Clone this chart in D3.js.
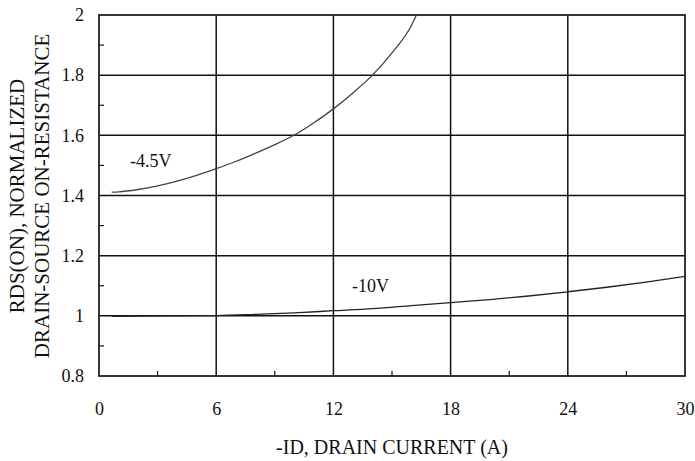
<!DOCTYPE html>
<html><head><meta charset="utf-8">
<script src="https://cdn.jsdelivr.net/npm/d3@7"></script>
<style>body{margin:0;background:#fff}svg{display:block}text{font-family:"Liberation Serif","Times New Roman",serif;fill:#111}</style>
</head><body><svg id="c" width="695" height="461"></svg>
<script>
const xTicks = [0, 6, 12, 18, 24, 30];
const yTicks = [0.8, 1, 1.2, 1.4, 1.6, 1.8, 2];
const xMinor = [3, 9, 15, 21, 27];
const yMinor = [0.9, 1.1, 1.3, 1.5, 1.7, 1.9];
const id45 = [0.65, 1, 2, 3, 4, 5, 6, 7, 8, 9, 10, 11, 12, 13, 14, 15, 16, 16.25];
const r45  = [1.411, 1.412, 1.42, 1.432, 1.448, 1.467, 1.489, 1.513, 1.54, 1.569, 1.601, 1.642, 1.688, 1.741, 1.80, 1.874, 1.966, 2.0];
const id10 = [0.65, 2, 4, 6, 8, 10, 12, 14, 16, 18, 20, 22, 24, 26, 28, 30];
const r10  = [0.998, 0.999, 1.0, 1.001, 1.005, 1.010, 1.017, 1.024, 1.034, 1.044, 1.054, 1.066, 1.080, 1.095, 1.112, 1.131];
const seriesLabels = ["-4.5V", "-10V"];

const svg = d3.select("#c");
const L = 99, R = 685, T = 15, B = 376;
const x = d3.scaleLinear().domain([0, 30]).range([L, R]);
const y = d3.scaleLinear().domain([0.8, 2]).range([B, T]);

const g = svg.append("g");
g.selectAll(".vg").data(xTicks.slice(1, -1)).join("line")
  .attr("x1", d => x(d)).attr("x2", d => x(d)).attr("y1", T).attr("y2", B)
  .attr("stroke", "#111").attr("stroke-width", 1.5);
g.selectAll(".hg").data(yTicks.slice(1, -1)).join("line")
  .attr("y1", d => y(d)).attr("y2", d => y(d)).attr("x1", L).attr("x2", R)
  .attr("stroke", "#111").attr("stroke-width", 1.5);
g.selectAll(".xm").data(xMinor).join("line")
  .attr("x1", d => x(d)).attr("x2", d => x(d)).attr("y1", B).attr("y2", B - 5)
  .attr("stroke", "#111").attr("stroke-width", 1.2);
g.selectAll(".ym").data(yMinor).join("line")
  .attr("y1", d => y(d)).attr("y2", d => y(d)).attr("x1", L).attr("x2", L + 5)
  .attr("stroke", "#111").attr("stroke-width", 1.2);
g.append("rect").attr("x", L).attr("y", T).attr("width", R - L).attr("height", B - T)
  .attr("fill", "none").attr("stroke", "#222").attr("stroke-width", 1.8);

const xa = svg.append("g").attr("transform", `translate(0,${B})`)
  .call(d3.axisBottom(x).tickValues(xTicks).tickSize(0).tickPadding(26).tickFormat(d3.format("d")));
const ya = svg.append("g").attr("transform", `translate(${L},0)`)
  .call(d3.axisLeft(y).tickValues(yTicks).tickSize(0).tickPadding(15).tickFormat(d => d3.format("")(d)));
[xa, ya].forEach(a => {
  a.select(".domain").remove();
  a.selectAll("text").attr("font-family", '"Liberation Serif",serif').attr("font-size", 18).attr("fill", "#111");
});

const line = d3.line().x(d => x(d[0])).y(d => y(d[1])).curve(d3.curveMonotoneX);
svg.append("path").datum(d3.zip(id45, r45)).attr("d", line)
  .attr("fill", "none").attr("stroke", "#444").attr("stroke-width", 1.3);
svg.append("path").datum(d3.zip(id10, r10)).attr("d", line)
  .attr("fill", "none").attr("stroke", "#222").attr("stroke-width", 1.3);

svg.append("text").attr("x", 130).attr("y", 167).attr("font-size", 18).text(seriesLabels[0]);
svg.append("text").attr("x", 352).attr("y", 292).attr("font-size", 18).text(seriesLabels[1]);

svg.append("text").attr("x", x(15)).attr("y", 454).attr("text-anchor", "middle").attr("font-size", 20)
  .text("-ID, DRAIN CURRENT (A)");
const yt = svg.append("text").attr("transform", "translate(0,196) rotate(-90)").attr("text-anchor", "middle").attr("font-size", 21);
yt.append("tspan").attr("x", 0).attr("y", 24).text("RDS(ON), NORMALIZED");
yt.append("tspan").attr("x", 0).attr("y", 49).text("DRAIN-SOURCE ON-RESISTANCE");
</script></body></html>
